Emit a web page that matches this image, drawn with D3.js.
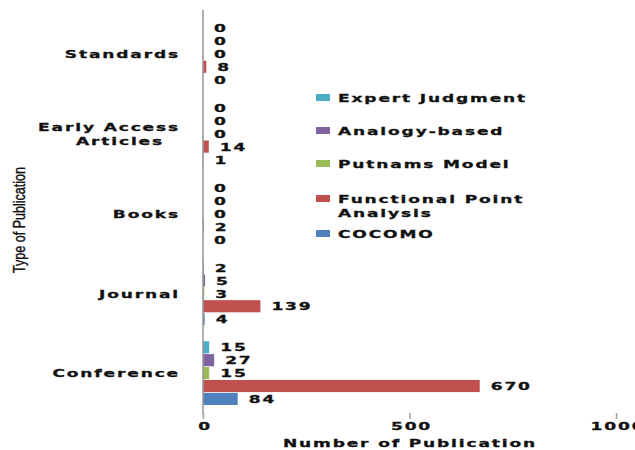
<!DOCTYPE html>
<html><head><meta charset="utf-8">
<script src="https://cdn.jsdelivr.net/npm/d3@7"></script>
<style>body{margin:0;background:#fff}</style>
</head><body><svg id="c" width="635" height="450"></svg>
<script>
const categories = ["Standards", "Early Access Articles", "Books", "Journal", "Conference"];
const seriesNames = ["Expert Judgment", "Analogy-based", "Putnams Model", "Functional Point Analysis", "COCOMO"];
const expertJudgment = [0, 0, 0, 2, 15];
const analogyBased = [0, 0, 0, 5, 27];
const putnamsModel = [0, 0, 0, 3, 15];
const functionalPointAnalysis = [8, 14, 2, 139, 670];
const cocomo = [0, 1, 0, 4, 84];
const xTicks = [0, 500, 1000];
const xTitle = "Number of Publication";
const yTitle = "Type of Publication";

const seriesValues = [expertJudgment, analogyBased, putnamsModel, functionalPointAnalysis, cocomo];
const colors = ["#4BACC6", "#8064A2", "#9BBB59", "#C0504D", "#4F81BD"];

const svg = d3.select("#c");
const FONT = "'DejaVu Sans', Verdana, sans-serif";
const SX = 1.55, FS = 11, LS = 1.2;

function label(g, x, y, txt, anchor, size) {
  return g.append("text")
    .attr("transform", `translate(${x},${y}) scale(${SX},1)`)
    .attr("text-anchor", anchor || "start")
    .attr("font-family", FONT).attr("font-weight", "bold")
    .attr("font-size", size || FS).attr("letter-spacing", LS)
    .attr("fill", "#111").attr("stroke", "#111").attr("stroke-width", 0.3)
    .text(txt);
}

const x = d3.scaleLinear().domain([0, 1000]).range([203, 616]);
const y = d3.scaleBand().domain(categories).range([14, 413]).padding(0);
const inner = d3.scaleBand().domain(seriesNames).range([0, y.bandwidth()])
  .paddingInner(0.06).paddingOuter(0.62);

// bars
const g = svg.append("g");
categories.forEach((c, ci) => {
  seriesNames.forEach((s, si) => {
    const v = seriesValues[si][ci];
    const yy = y(c) + inner(s);
    g.append("rect")
      .attr("x", x(0)).attr("y", yy)
      .attr("width", Math.max(0, x(v) - x(0)))
      .attr("height", inner.bandwidth())
      .attr("fill", colors[si]);
    label(g, x(v) + 11, yy + inner.bandwidth() / 2 + 4.2, String(v), "start");
  });
});

// y axis line
svg.append("line").attr("x1", x(0)).attr("x2", x(0)).attr("y1", 10).attr("y2", 414)
  .attr("stroke", "#9a9a9a").attr("stroke-width", 1.6);

// category labels
categories.forEach(c => {
  const cy = y(c) + y.bandwidth() / 2;
  if (c === "Early Access Articles") {
    label(svg, 180, cy - 3, "Early Access", "end");
    label(svg, 164, cy + 11, "Articles", "end");
  } else {
    label(svg, 180, cy + 4.2, c, "end");
  }
});

// x axis ticks
const xa = svg.append("g").attr("transform", "translate(0,413)")
  .call(d3.axisBottom(x).tickValues(xTicks).tickSize(6).tickFormat(d3.format("d")));
xa.select(".domain").remove();
xa.selectAll(".tick line").attr("stroke", "#9a9a9a").attr("stroke-width", 1.4);
xa.selectAll(".tick text").remove();
xTicks.forEach(t => label(svg, x(t) + 2, 430, String(t), "middle", 11));

// axis titles
label(svg, 410, 447, xTitle, "middle", 11);
svg.append("text")
  .attr("transform", "translate(25,220) rotate(-90)")
  .attr("text-anchor", "middle")
  .attr("font-family", "'Liberation Sans Narrow', 'Liberation Sans', Arial, sans-serif")
  .attr("font-size", 16).attr("fill", "#111").attr("stroke", "#111").attr("stroke-width", 0.4)
  .attr("textLength", 106).attr("lengthAdjust", "spacingAndGlyphs")
  .text(yTitle);

// legend
const legendY = [98, 131, 164, 199, 234];
seriesNames.forEach((s, i) => {
  const ly = legendY[i];
  svg.append("rect").attr("x", 316).attr("y", ly - 4).attr("width", 14).attr("height", 7)
    .attr("fill", colors[i]);
  if (s === "Functional Point Analysis") {
    label(svg, 338, ly + 4.2, "Functional Point", "start");
    label(svg, 338, ly + 18.2, "Analysis", "start");
  } else {
    label(svg, 338, ly + 4.2, s, "start");
  }
});
</script></body></html>
